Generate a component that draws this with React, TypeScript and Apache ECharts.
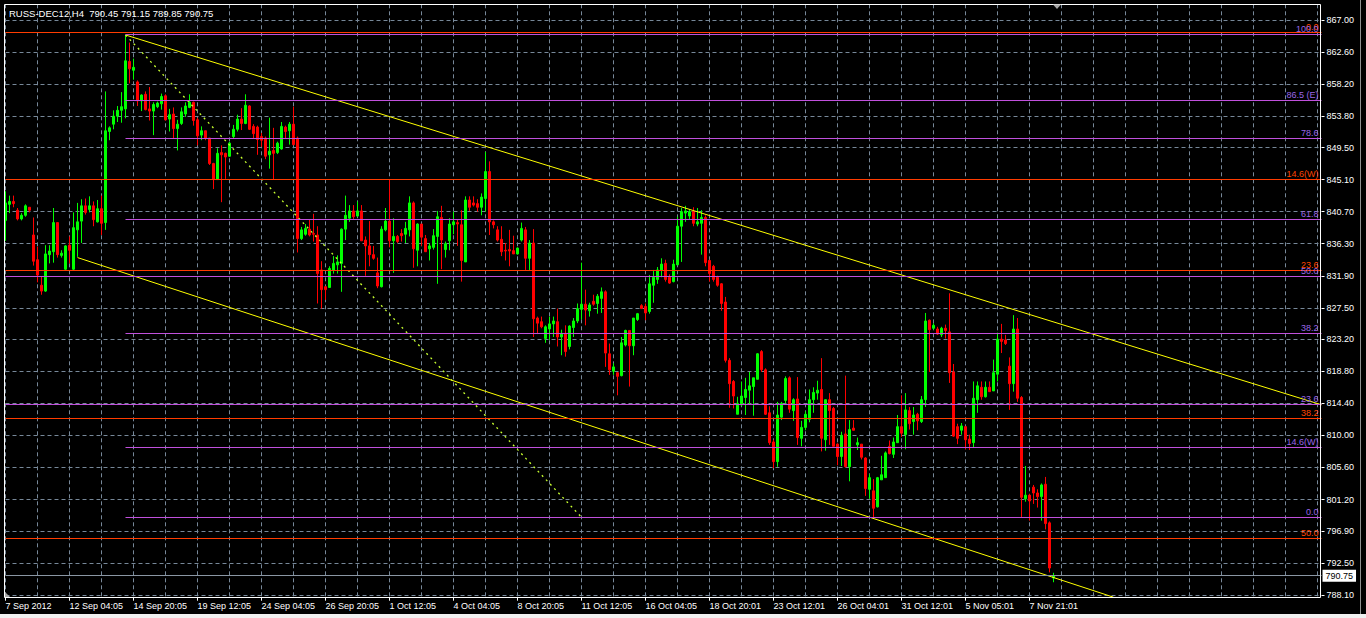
import React, { useEffect, useRef } from "react";
import * as echarts from "echarts";

const titleText = "RUSS-DEC12,H4  790.45 791.15 789.85 790.75";

const timeLabels = [
  "7 Sep 2012", "12 Sep 04:05", "14 Sep 20:05", "19 Sep 12:05", "24 Sep 04:05",
  "26 Sep 20:05", "1 Oct 12:05", "4 Oct 04:05", "8 Oct 20:05", "11 Oct 12:05",
  "16 Oct 04:05", "18 Oct 20:01", "23 Oct 12:01", "26 Oct 04:01", "31 Oct 12:01",
  "5 Nov 05:01", "7 Nov 21:01",
];

const priceTicks = [
  867.0, 862.6, 858.2, 853.8, 849.5, 845.1, 840.7, 836.3, 831.9, 827.5,
  823.2, 818.8, 814.4, 810.0, 805.6, 801.2, 796.9, 792.5, 788.1,
];

const opens = [
  839.5, 841.7, 842.1, 840.9, 839.7, 840.2, 841.3, 837.5, 834.1, 830.6,
  829.8, 834.8, 835.2, 839.2, 834.7, 832.8, 836.1, 832.8, 838.2, 839.4,
  841.5, 841.0, 841.5, 839.3, 841.1, 839.2, 851.7, 852.7, 853.8, 854.6,
  854.8, 861.3, 860.1, 858.5, 855.9, 856.8, 854.8, 854.5, 855.1, 855.5,
  856.6, 853.4, 854.1, 852.1, 852.8, 854.1, 855.0, 855.7, 853.3, 851.2,
  851.8, 850.8, 847.3, 845.1, 848.8, 848.7, 848.3, 851.0, 852.0, 853.4,
  852.8, 855.2, 852.4, 852.3, 851.0, 850.8, 848.5, 849.1, 848.8, 849.3,
  852.3, 851.8, 852.7, 850.8, 837.0, 837.6, 838.3, 837.7, 837.5, 832.7,
  830.4, 830.3, 832.7, 833.4, 833.6, 838.3, 839.8, 840.8, 840.1, 840.8,
  836.8, 836.0, 834.8, 832.3, 830.4, 838.2, 839.4, 836.7, 837.3, 837.7,
  837.6, 838.2, 841.9, 835.4, 839.0, 837.0, 835.6, 835.8, 837.3, 839.9,
  835.5, 836.7, 838.9, 839.2, 838.9, 833.8, 842.3, 841.9, 841.8, 841.3,
  842.5, 846.2, 839.3, 838.2, 836.9, 835.4, 835.5, 835.35, 834.9, 836.8,
  838.2, 834.3, 836.4, 826.1, 825.6, 823.3, 824.6, 825.3, 825.6, 823.5,
  824.0, 822.2, 824.8, 825.7, 827.3, 828.0, 827.1, 828.4, 828.1, 828.8,
  829.7, 821.2, 818.8, 818.6, 818.2, 822.4, 824.4, 822.3, 825.9, 827.8,
  827.7, 827.0, 830.6, 831.4, 832.7, 833.6, 831.7, 831.1, 833.4, 838.7,
  840.5, 840.1, 840.7, 839.0, 839.1, 839.9, 834.0, 833.2, 831.7, 830.8,
  828.3, 820.3, 817.4, 812.9, 814.2, 815.2, 816.2, 816.7, 817.7, 821.5,
  819.0, 813.1, 809.1, 806.4, 812.5, 814.8, 817.9, 813.4, 815.0, 809.6,
  811.1, 812.2, 814.9, 815.8, 816.3, 809.4, 814.9, 813.7, 808.8, 807.1,
  810.2, 805.7, 811.0, 808.7, 808.8, 806.9, 802.6, 802.4, 800.2, 803.9,
  804.2, 808.5, 807.4, 809.0, 811.2, 810.1, 813.4, 811.9, 812.9, 811.9,
  814.9, 825.8, 824.7, 824.6, 823.8, 824.7, 824.2, 818.7, 811.2, 810.7,
  811.2, 809.5, 809.0, 814.9, 816.6, 815.3, 816.6, 816.1, 818.4, 823.2,
  823.1, 819.5, 817.1, 824.6, 815.2, 801.3, 801.8, 802.9, 802.1, 801.6,
  803.3, 798.0, 790.45,
];

const highs = [
  843.5, 842.9, 842.9, 841.2, 840.5, 841.7, 841.3, 839.9, 835.9, 831.8,
  836.1, 836.1, 841.2, 839.2, 835.4, 836.1, 837.3, 840.6, 841.9, 842.4,
  842.5, 842.8, 842.1, 842.3, 842.9, 857.2, 852.4, 854.6, 855.2, 857.1,
  864.94, 863.9, 861.7, 858.7, 856.8, 857.2, 857.8, 855.7, 855.8, 856.9,
  856.8, 854.8, 855.0, 853.3, 855.0, 855.7, 856.8, 855.8, 853.6, 852.4,
  851.8, 850.8, 847.4, 849.4, 849.8, 848.8, 850.3, 852.6, 854.0, 854.9,
  856.8, 855.3, 852.7, 852.5, 851.5, 851.0, 853.6, 852.2, 850.3, 853.0,
  852.5, 853.0, 855.1, 851.0, 838.6, 839.0, 839.6, 840.4, 838.7, 833.9,
  830.5, 833.2, 834.6, 834.7, 838.4, 842.9, 841.6, 841.6, 842.1, 841.6,
  837.3, 839.4, 836.0, 834.4, 838.7, 841.2, 845.1, 839.8, 837.5, 838.3,
  839.3, 842.8, 842.1, 839.1, 839.0, 837.5, 836.4, 838.3, 840.8, 841.5,
  836.6, 839.8, 840.7, 839.6, 840.9, 842.8, 842.8, 842.8, 842.4, 843.2,
  848.9, 847.6, 839.5, 838.7, 838.7, 836.4, 838.2, 837.4, 835.8, 839.2,
  838.6, 836.8, 838.3, 826.3, 826.3, 825.1, 826.3, 826.3, 827.4, 824.5,
  825.1, 825.1, 826.1, 828.1, 833.7, 830.0, 828.2, 829.3, 829.4, 830.3,
  829.9, 822.6, 819.9, 818.7, 823.5, 824.5, 824.4, 826.1, 826.8, 828.0,
  828.1, 832.0, 832.7, 833.1, 834.3, 834.1, 832.1, 834.1, 840.0, 841.2,
  841.5, 841.0, 841.3, 841.2, 840.9, 840.2, 834.1, 833.4, 831.9, 830.9,
  829.0, 820.6, 817.6, 815.3, 817.4, 817.9, 818.7, 817.9, 821.3, 821.7,
  819.2, 814.0, 809.4, 814.6, 814.6, 818.1, 818.1, 815.1, 818.0, 812.0,
  813.3, 816.3, 816.6, 817.5, 820.6, 814.9, 815.8, 813.9, 808.9, 810.5,
  818.2, 812.1, 812.1, 809.7, 808.8, 807.0, 804.7, 804.0, 804.3, 807.2,
  807.8, 809.3, 809.7, 812.8, 815.5, 815.8, 813.9, 813.9, 813.1, 815.4,
  826.8, 825.9, 825.4, 824.9, 824.9, 825.2, 829.5, 819.8, 811.6, 811.7,
  811.2, 810.1, 817.4, 817.4, 817.4, 817.4, 817.4, 820.4, 824.1, 825.3,
  823.8, 820.7, 826.5, 826.1, 815.4, 805.8, 802.0, 803.2, 802.6, 803.4,
  804.3, 798.2, 791.15,
];

const lows = [
  836.7, 840.5, 841.3, 839.5, 839.5, 840.0, 840.6, 833.3, 831.0, 829.3,
  829.7, 833.6, 833.7, 834.4, 834.4, 832.7, 833.6, 832.6, 834.5, 836.4,
  840.3, 840.6, 838.7, 839.2, 837.5, 838.2, 850.5, 852.0, 853.0, 852.9,
  853.5, 858.3, 858.8, 855.2, 854.5, 854.6, 853.2, 851.2, 854.9, 854.7,
  853.2, 851.7, 850.8, 849.1, 852.6, 853.7, 854.9, 852.5, 849.8, 850.5,
  850.5, 847.1, 843.8, 845.1, 842.0, 845.2, 848.2, 850.8, 851.7, 851.9,
  852.7, 851.9, 850.8, 848.5, 849.6, 847.9, 846.6, 845.1, 848.6, 849.2,
  850.8, 849.9, 849.8, 835.1, 836.8, 837.4, 837.3, 836.6, 828.1, 827.4,
  828.6, 830.3, 832.2, 832.2, 829.7, 836.8, 839.3, 839.6, 840.0, 836.7,
  831.9, 833.2, 834.1, 830.2, 830.3, 838.0, 835.8, 832.3, 836.4, 836.6,
  836.4, 837.3, 833.0, 833.2, 836.0, 835.2, 834.0, 835.5, 830.8, 832.8,
  834.4, 835.4, 837.6, 836.0, 831.1, 833.8, 840.8, 841.4, 840.7, 840.2,
  840.7, 837.5, 838.4, 836.6, 834.6, 834.0, 833.2, 834.9, 834.8, 836.6,
  832.7, 832.7, 823.5, 823.9, 824.7, 822.7, 823.1, 823.5, 822.2, 821.0,
  820.8, 821.8, 823.5, 825.4, 825.9, 825.1, 826.3, 827.8, 826.7, 826.8,
  819.4, 818.3, 818.3, 815.5, 818.1, 822.2, 816.7, 821.0, 825.7, 827.4,
  825.8, 826.7, 828.2, 830.8, 831.7, 831.1, 830.8, 831.0, 833.4, 833.8,
  839.3, 839.6, 838.7, 838.7, 834.8, 833.2, 831.1, 831.1, 830.4, 827.1,
  820.0, 813.8, 813.7, 812.9, 814.0, 812.8, 814.2, 812.7, 817.7, 818.7,
  812.8, 808.7, 805.5, 805.7, 812.1, 814.4, 813.1, 812.0, 808.7, 808.5,
  810.7, 811.8, 813.1, 814.9, 807.8, 807.9, 808.7, 808.5, 805.9, 805.8,
  805.6, 803.7, 810.7, 808.0, 806.7, 801.7, 801.3, 798.6, 800.1, 803.9,
  804.2, 807.4, 806.9, 809.0, 809.8, 808.1, 810.8, 810.1, 810.7, 811.7,
  813.9, 818.7, 824.5, 823.8, 823.5, 823.3, 817.2, 809.8, 808.8, 810.1,
  808.1, 808.0, 808.4, 813.1, 814.9, 815.2, 816.0, 816.1, 817.4, 821.3,
  822.4, 813.5, 816.0, 814.6, 798.8, 800.9, 798.3, 800.6, 800.1, 798.3,
  797.1, 791.2, 789.85,
];

const closes = [
  841.9, 842.1, 841.8, 839.7, 840.2, 841.5, 840.9, 833.9, 832.0, 829.8,
  834.9, 835.3, 839.2, 834.8, 835.0, 836.0, 835.4, 838.5, 839.3, 841.5,
  840.6, 841.5, 839.6, 841.1, 839.1, 851.8, 852.2, 853.8, 854.6, 855.1,
  861.4, 860.3, 860.5, 855.9, 856.7, 854.7, 854.5, 855.4, 855.6, 856.5,
  853.3, 854.0, 852.1, 852.7, 854.4, 855.2, 855.7, 853.2, 851.1, 851.8,
  850.8, 847.3, 845.1, 848.7, 848.5, 848.2, 850.1, 852.0, 853.4, 852.8,
  855.3, 852.0, 851.4, 850.6, 850.5, 848.3, 849.0, 848.7, 850.1, 852.4,
  851.7, 852.7, 849.9, 837.0, 838.2, 838.4, 837.5, 837.6, 832.2, 830.0,
  830.0, 832.9, 833.6, 833.8, 838.3, 840.2, 840.8, 840.0, 840.8, 836.7,
  836.0, 834.8, 834.3, 830.5, 838.3, 839.4, 836.7, 837.3, 836.6, 837.4,
  838.4, 841.9, 835.6, 839.0, 837.2, 835.2, 836.0, 837.4, 840.0, 836.8,
  836.3, 839.0, 839.3, 839.0, 834.0, 842.3, 841.3, 841.6, 841.3, 842.7,
  846.2, 839.3, 838.9, 836.8, 835.2, 835.3, 835.3, 834.9, 835.7, 838.4,
  834.3, 836.4, 826.0, 825.4, 824.9, 824.9, 825.3, 825.7, 823.5, 824.0,
  821.5, 825.0, 825.7, 827.4, 828.0, 827.2, 827.9, 828.0, 829.1, 829.7,
  821.3, 819.0, 819.4, 818.1, 822.7, 824.4, 822.3, 826.1, 826.7, 827.4,
  826.8, 830.8, 831.7, 832.7, 833.5, 831.4, 830.9, 833.5, 838.7, 840.7,
  840.8, 840.7, 839.1, 839.3, 839.9, 833.7, 832.2, 831.4, 830.6, 828.1,
  820.3, 817.1, 815.4, 814.4, 815.4, 816.3, 816.8, 817.9, 821.2, 819.0,
  812.9, 809.0, 806.4, 812.8, 814.4, 817.8, 813.6, 814.9, 809.7, 811.1,
  812.9, 814.9, 815.9, 816.2, 809.6, 814.9, 813.4, 808.5, 807.1, 810.0,
  805.7, 810.8, 810.7, 809.0, 807.0, 802.7, 804.2, 800.0, 804.2, 804.6,
  807.6, 807.5, 809.1, 811.2, 810.3, 813.5, 811.6, 812.8, 812.0, 814.9,
  825.7, 824.5, 825.1, 823.9, 824.7, 824.4, 818.6, 809.9, 809.6, 811.3,
  809.4, 808.9, 815.1, 816.8, 815.3, 816.6, 816.0, 818.6, 823.2, 822.9,
  822.6, 817.1, 824.6, 815.1, 801.5, 801.8, 801.0, 802.1, 801.6, 803.2,
  797.9, 791.8, 790.75,
];

// Fibonacci levels of the red tool (anchored before the chart start)
const redFibNames = ["0.0", "14.6(W)", "23.6", "38.2", "50.0"];
const redFibValues = [865.28, 845.11, 832.63, 812.32, 795.85];

// Fibonacci levels of the purple tool (anchored at the Sep 14 high)
const purpleFibNames = ["100.0", "86.5 (E)", "78.6", "61.8", "50.0", "38.2", "23.6", "14.6(W)", "0.0"];
const purpleFibValues = [865.01, 855.95, 850.74, 839.62, 831.8, 823.98, 814.24, 808.34, 798.73];
const purpleFibFromStart = [false, false, false, false, true, false, true, false, false];
const purpleAnchorIndex = 30;

const lastPrice = 790.75;

// trend lines: [category index, price]
const upperChannel = [[30, 864.94], [329, 814.2]];
const lowerChannel = [[18, 834.4], [277, 787.8]];
const fibTrend = [[30, 864.94], [144, 798.77]];

const SLOT_COUNT = 330;

export default function App() {
  const ref = useRef<HTMLDivElement>(null);

  useEffect(() => {
    document.body.style.margin = "0";
    if (!ref.current) return;
    const chart = echarts.init(ref.current, undefined, { renderer: "svg" });
    const font = "'Liberation Sans', Arial, sans-serif";
    const gridColor = "#778899";
    const redLine = "#ff3c00";
    const redText = "#ff4500";
    const purpleLine = "#c050dc";
    const purpleText = "#9a66e6";

    const categories = Array.from({ length: SLOT_COUNT }, (_, i) => String(i));
    const candleData = opens.map((o, i) => [o, closes[i], lows[i], highs[i]]);

    const markData: any[] = [];
    redFibValues.forEach((v, k) => {
      markData.push({
        yAxis: v,
        lineStyle: { color: redLine, width: 1, type: "solid" },
        label: {
          show: true,
          formatter: redFibNames[k],
          position: "insideEndTop",
          color: redText,
          fontSize: 9,
          fontFamily: font,
          distance: [3, 1],
        },
      });
    });
    purpleFibValues.forEach((v, k) => {
      const lbl = {
        show: true,
        formatter: purpleFibNames[k],
        position: "insideEndTop",
        color: purpleText,
        fontSize: 9,
        fontFamily: font,
        distance: [3, 1],
      };
      const ls = { color: purpleLine, width: 1, type: "solid" };
      if (purpleFibFromStart[k]) {
        markData.push({ yAxis: v, lineStyle: ls, label: lbl });
      } else {
        markData.push([
          { coord: [purpleAnchorIndex, v], lineStyle: ls, label: lbl },
          { coord: [SLOT_COUNT - 1, v] },
        ]);
      }
    });
    markData.push({
      yAxis: lastPrice,
      lineStyle: { color: "#8a96a3", width: 1, type: "solid" },
      label: {
        show: true,
        position: "end",
        formatter: lastPrice.toFixed(2),
        color: "#000",
        backgroundColor: "#fff",
        padding: [2, 3, 1, 3],
        fontSize: 9,
        fontFamily: font,
        distance: 1,
      },
    });

    chart.setOption({
      animation: false,
      backgroundColor: "#000",
      grid: { left: 5.5, top: 4.3, width: 1316, height: 593.4, containLabel: false },
      xAxis: {
        type: "category",
        data: categories,
        boundaryGap: false,
        axisLine: { show: false },
        axisTick: {
          show: true,
          interval: (i: number) => i % 16 === 0 && i / 16 < timeLabels.length,
          length: 3,
          lineStyle: { color: "#fff" },
        },
        axisLabel: {
          show: true,
          interval: (i: number) => i % 16 === 0 && i / 16 < timeLabels.length,
          formatter: (_v: string, i: number) => timeLabels[i / 16] ?? "",
          align: "left",
          color: "#fff",
          fontSize: 9,
          fontFamily: font,
          margin: 4,
          padding: [0, 0, 0, 0],
        },
        splitLine: {
          show: true,
          interval: (i: number) => i % 8 === 0,
          lineStyle: { color: gridColor, width: 1, type: [4, 3] },
        },
      },
      yAxis: {
        type: "value",
        position: "right",
        min: 787.73,
        max: 869.15,
        scale: true,
        axisLine: { show: false },
        axisTick: {
          show: true,
          customValues: priceTicks,
          length: 3,
          lineStyle: { color: "#fff" },
        },
        axisLabel: {
          show: true,
          customValues: priceTicks,
          formatter: (v: number) => v.toFixed(2),
          color: "#fff",
          fontSize: 9,
          fontFamily: font,
          margin: 5,
        },
        splitLine: {
          show: true,
          customValues: priceTicks,
          lineStyle: { color: gridColor, width: 1, type: [4, 3] },
        },
      },
      graphic: [
        {
          type: "rect",
          z: 100,
          shape: { x: 4.5, y: 4.5, width: 1316, height: 593 },
          style: { fill: "none", stroke: "#fff", lineWidth: 1 },
          silent: true,
        },
        {
          type: "text",
          left: 9,
          top: 8,
          z: 100,
          style: { text: titleText, fill: "#fff", fontSize: 9.5, fontFamily: font },
        },
        {
          type: "polygon",
          z: 100,
          shape: { points: [[1053, 4.5], [1061, 4.5], [1057, 9]] },
          style: { fill: "#a8a8a8" },
        },
        {
          type: "polygon",
          z: 100,
          shape: { points: [[5, 597], [5, 592], [10, 597]] },
          style: { fill: "#a8a8a8" },
        },
        {
          type: "rect",
          z: 100,
          shape: { x: 0, y: 614, width: 1366, height: 4 },
          style: { fill: "#f0f0f0" },
        },
        {
          type: "line",
          z: 100,
          shape: { x1: 1360.5, y1: 0, x2: 1360.5, y2: 614 },
          style: { stroke: "#909090", lineWidth: 1 },
        },
      ],
      series: [
        {
          name: "levels",
          type: "line",
          z: 1,
          data: [],
          symbol: "none",
          markLine: {
            silent: true,
            symbol: ["none", "none"],
            animation: false,
            data: markData,
          },
        },
        {
          name: "RUSS-DEC12",
          type: "candlestick",
          z: 2,
          data: candleData,
          barWidth: 2,
          itemStyle: {
            color: "#00ff00",
            color0: "#ff0000",
            borderColor: "#00ff00",
            borderColor0: "#ff0000",
            borderColorDoji: "#00ff00",
            borderWidth: 1,
          },
        },
        {
          name: "upper",
          type: "line",
          z: 3,
          data: upperChannel,
          symbol: "none",
          lineStyle: { color: "#ffff00", width: 1 },
        },
        {
          name: "lower",
          type: "line",
          z: 3,
          data: lowerChannel,
          symbol: "none",
          lineStyle: { color: "#ffff00", width: 1 },
        },
        {
          name: "fibTrend",
          type: "line",
          z: 3,
          data: fibTrend,
          symbol: "none",
          lineStyle: { color: "#c8ff30", width: 1.3, type: [2, 4] },
        },
      ],
    });

    return () => {
      chart.dispose();
    };
  }, []);

  return (
    <div
      ref={ref}
      style={{ position: "absolute", left: 0, top: 0, width: 1366, height: 618, background: "#000" }}
    />
  );
}
